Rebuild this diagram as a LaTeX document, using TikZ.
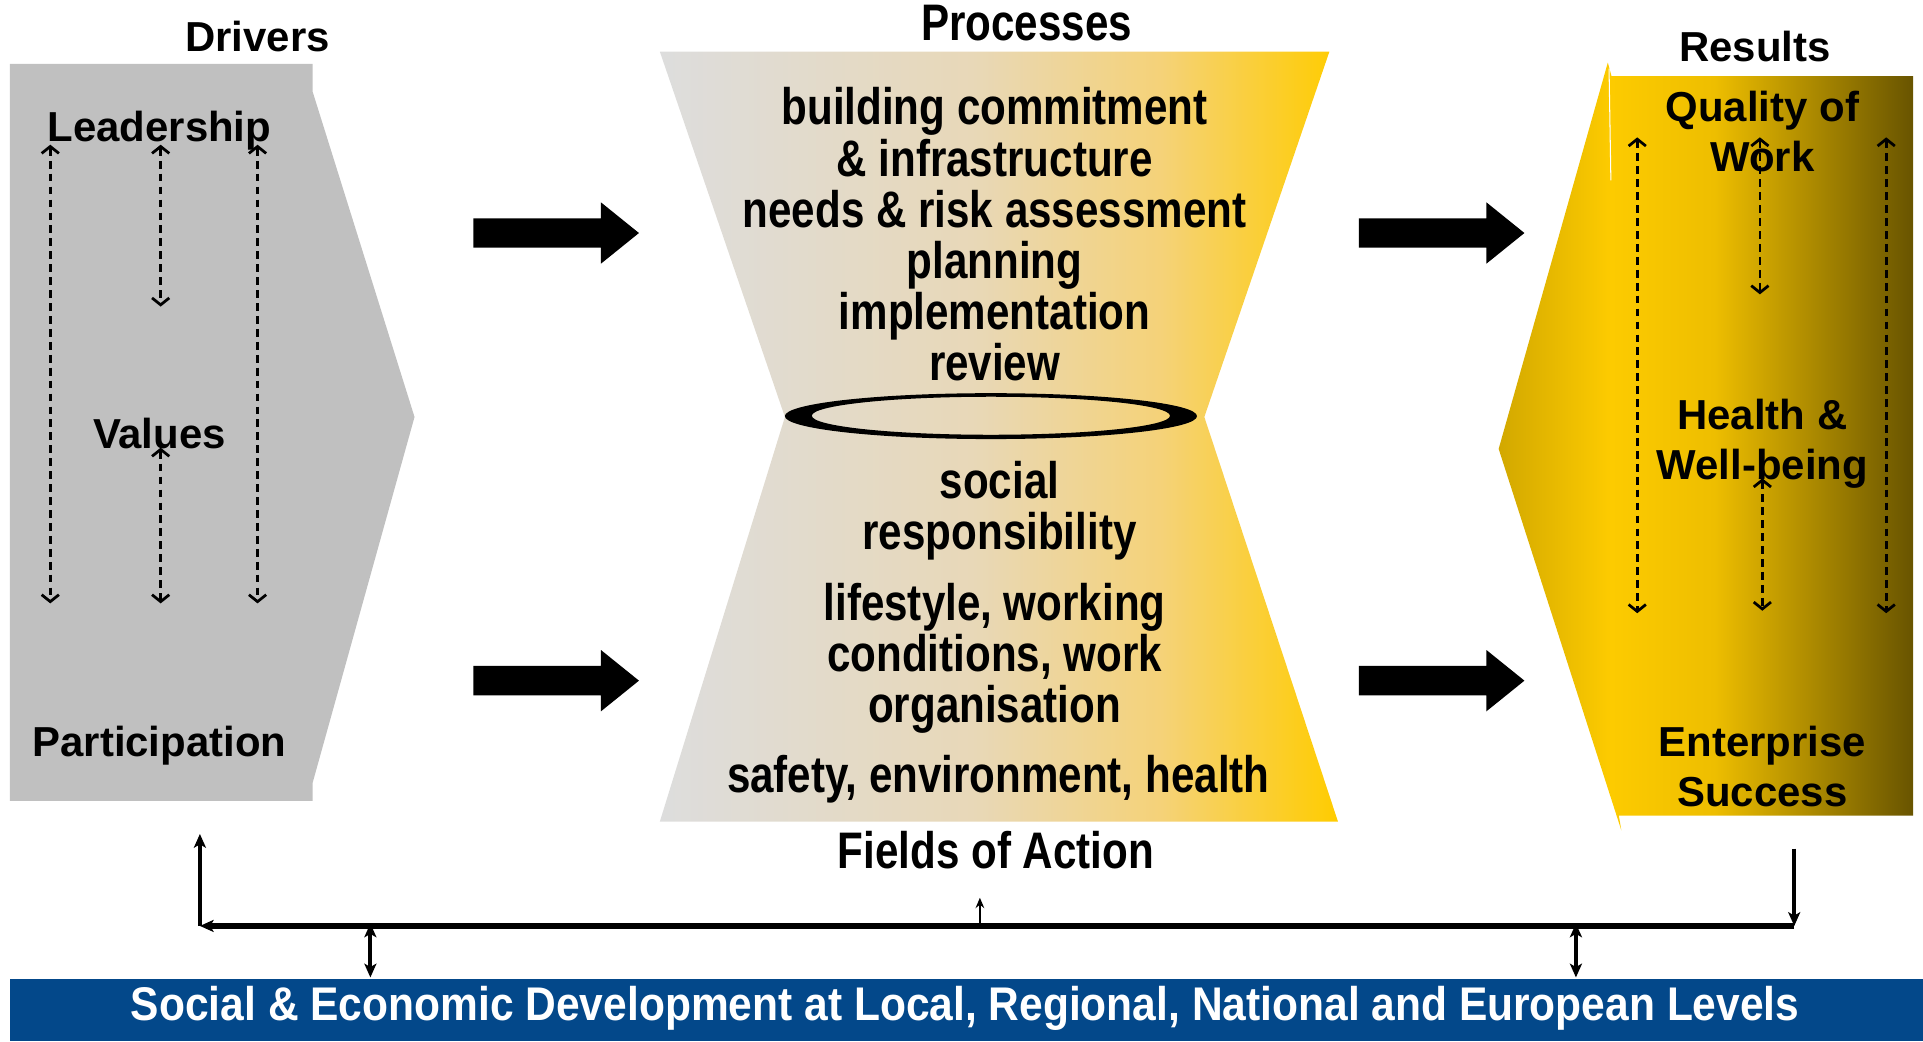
\documentclass[tikz,border=0pt]{standalone}
\usepackage{fontspec}
\setmainfont{Liberation Sans}
\newfontfamily\narrowfont[FakeStretch=0.82]{Liberation Sans}
\newfontfamily\bandfont[FakeStretch=0.9]{Liberation Sans}
\usetikzlibrary{arrows.meta}

\definecolor{drivergray}{RGB}{192,192,192}
\definecolor{bandblue}{RGB}{3,72,138}
\definecolor{procgray}{RGB}{221,221,221}
\definecolor{proctan}{RGB}{232,216,184}
\definecolor{procsand}{RGB}{245,210,120}
\definecolor{procyellow}{RGB}{255,204,0}
\definecolor{resgold}{RGB}{210,168,0}
\definecolor{resyellow}{RGB}{253,203,0}
\definecolor{resyellowb}{RGB}{238,190,0}
\definecolor{resbrown}{RGB}{104,84,0}

\pgfdeclarehorizontalshading{procshade}{100bp}{color(0bp)=(procgray); color(25bp)=(procgray);
  color(48bp)=(proctan); color(62bp)=(procsand); color(75bp)=(procyellow); color(100bp)=(procyellow)}
\pgfdeclarehorizontalshading{resshade}{100bp}{color(0bp)=(resgold); color(25bp)=(resgold);
  color(38.5bp)=(resyellow); color(51bp)=(resyellowb); color(75bp)=(resbrown); color(100bp)=(resbrown)}

\begin{document}
\begin{tikzpicture}[x=0.025cm,y=-0.025cm,
    lbl/.style={font=\bfseries\fontsize{24.3}{29.1}\selectfont,align=center,anchor=base},
    plbl/.style={font=\narrowfont\bfseries\fontsize{29.8}{29.6}\selectfont,align=center,anchor=base},
    fbline/.style={line width=2.2pt},
    >={Stealth[length=8pt,width=7pt,inset=2pt]}]

        \useasboundingbox (0,0) rectangle (1568,849);

        % blocks
        \fill[drivergray] (8,52) -- (255,52) -- (255,75) -- (338,340) -- (255,638)
          -- (255,653) -- (8,653) -- cycle;
        \shade[shading=procshade] (538,42) -- (1084,42) -- (982,340) -- (1091,670)
          -- (538,670) -- (640,340) -- cycle;
        \fill[even odd rule] (808,339.3) ellipse [x radius=4.2cm,y radius=0.4675cm]
          (808,339) ellipse [x radius=3.65cm,y radius=0.3875cm];
        \shade[shading=resshade] (1311,51) -- (1314,62) -- (1560,62) -- (1560,665)
          -- (1320,665) -- (1322,677) -- (1222,366) -- cycle;
        \draw[white,line width=0.6pt] (1312,56) -- (1313.5,147);
        \fill[bandblue] (8,798) rectangle (1568,849);

        \foreach \x/\y in {386/190,386/555,1108/190,1108/555}
          \fill (\x,\y-12) -- ++(104,0) -- ++(0,-13) -- ++(31,25) -- ++(-31,25)
            -- ++(0,-13) -- ++(-104,0) -- cycle;

        % labels (base = last line)
        \begin{scope}[every node/.style={lbl}]
          \node (drv)  at (210,42)   {Drivers};
          \node (lead) at (130,115)  {Leadership};
          \node (val)  at (130,366)  {Values};
          \node (part) at (130,617)  {Participation};
          \node (res)  at (1431,50)  {Results};
          \node (qow)  at (1437,140) {Quality of\\Work};
          \node (hwb)  at (1437,391) {Health \&\\Well-being};
          \node (ent)  at (1437,658) {Enterprise\\Success};
        \end{scope}

        \begin{scope}[every node/.style={plbl}]
          \node (proc) at (837,33)  {Processes};
          \node (steps) at (811,310) {building commitment\\\& infrastructure\\needs \& risk assessment\\planning\\implementation\\review};
          \node (soc)  at (815,448) {social\\responsibility};
          \node (life) at (811,589) {lifestyle, working\\conditions, work\\organisation};
          \node (seh)  at (814,646) {safety, environment, health};
          \node (foa)  at (812,708) {Fields of Action};
        \end{scope}

        \node[font=\bandfont\bfseries\fontsize{27.4}{32}\selectfont,text=white,anchor=base]
          (band) at (787,832) {Social \& Economic Development at Local, Regional, National and European Levels};

        \coordinate (l1a) at (41,118);   \coordinate (l1b) at (41,492);
        \coordinate (l2a) at (131,118);  \coordinate (l2b) at (131,250);
        \coordinate (l3a) at (131,365);  \coordinate (l3b) at (131,492);
        \coordinate (l4a) at (210,118);  \coordinate (l4b) at (210,492);
        \coordinate (r1a) at (1335,112); \coordinate (r1b) at (1335,500);
        \coordinate (r2a) at (1435,112); \coordinate (r2b) at (1435,240);
        \coordinate (r3a) at (1437,390); \coordinate (r3b) at (1437,498);
        \coordinate (r4a) at (1538,112); \coordinate (r4b) at (1538,500);

        \begin{scope}[>={Straight Barb[length=4pt,width=10pt]},
            every edge/.style={draw,<->,line width=1.6pt,dash pattern=on 4.5pt off 3pt}]
          \path (l1a) edge (l1b);
          \path (l2a) edge (l2b);
          \path (l3a) edge (l3b);
          \path (l4a) edge (l4b);
          \path (r1a) edge (r1b);
          \path (r2a) edge (r2b);
          \path (r3a) edge (r3b);
          \path (r4a) edge (r4b);
        \end{scope}

        \coordinate (fbl)  at (163,755);  \coordinate (fblt) at (163,680);
        \coordinate (fbr)  at (1463,755); \coordinate (fbrt) at (1463,692);
        \coordinate (fbm)  at (799,755);  \coordinate (fbmt) at (799,732);
        \coordinate (k1a)  at (302,753);  \coordinate (k1b)  at (302,797);
        \coordinate (k2a)  at (1285,753); \coordinate (k2b)  at (1285,797);

        \draw[fbline,->] (fbl) -- (fblt);
        \draw[line width=3pt,->] (fbr) -- (fbl);
        \draw[fbline,->] (fbrt) -- (fbr);
        \draw[line width=1.2pt,-{Stealth[length=6pt,width=5pt]}] (fbm) -- (fbmt);
        \draw[fbline,<->] (k1a) -- (k1b);
        \draw[fbline,<->] (k2a) -- (k2b);

      \end{tikzpicture}
\end{document}
